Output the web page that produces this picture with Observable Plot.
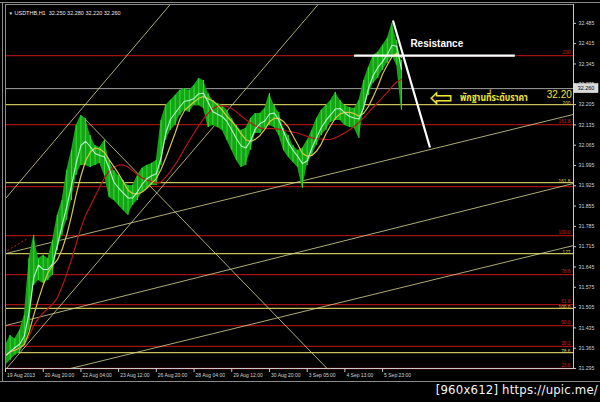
<!DOCTYPE html>
<html><head><meta charset="utf-8">
<script src="https://cdn.jsdelivr.net/npm/d3@7"></script>
<script src="https://cdn.jsdelivr.net/npm/@observablehq/plot@0.6"></script>
<style>
html,body{margin:0;padding:0;background:#000;}
#wrap{position:relative;width:600px;height:402px;overflow:hidden;background:#000;}
#wrap svg{position:absolute;left:0;top:0;}
.edge{position:absolute;background:#8c8c8c;}
#wm{position:absolute;right:2px;top:382px;color:#f4f4f4;font:13px "Liberation Sans Narrow","DejaVu Sans Condensed",sans-serif;letter-spacing:0.2px;white-space:nowrap;}
</style></head>
<body><div id="wrap"></div>
<script>
// ---- data ----
const symbolTitle = "USDTHB,H1  32.250 32.280 32.220 32.260";
const lastPrice = 32.260;
// one entry per 4 hourly bars, starting 19 Aug 2013
const barHigh = [31.374,31.409,31.398,31.426,31.478,31.674,31.754,31.674,31.685,31.674,31.736,31.823,31.874,31.978,32.047,32.133,32.167,32.157,32.098,32.064,32.057,32.081,32.012,31.978,31.960,31.943,31.926,31.926,31.960,31.985,31.995,32.002,32.012,32.150,32.202,32.219,32.236,32.254,32.260,32.254,32.271,32.295,32.288,32.243,32.219,32.209,32.202,32.185,32.157,32.133,32.116,32.123,32.157,32.174,32.174,32.191,32.243,32.202,32.178,32.123,32.098,32.064,32.047,32.054,32.081,32.116,32.157,32.185,32.202,32.219,32.247,32.219,32.202,32.195,32.191,32.219,32.288,32.333,32.374,32.385,32.409,32.433,32.485,32.426,32.357];
const barLow  = [31.305,31.323,31.340,31.350,31.374,31.426,31.581,31.598,31.588,31.598,31.616,31.702,31.754,31.805,31.874,31.960,31.995,31.995,31.988,31.995,32.002,31.960,31.885,31.874,31.857,31.840,31.823,31.857,31.874,31.902,31.916,31.926,31.926,31.995,32.081,32.116,32.133,32.167,32.185,32.178,32.202,32.202,32.191,32.126,32.133,32.126,32.116,32.081,32.047,32.012,31.988,31.995,32.047,32.105,32.105,32.123,32.133,32.126,32.098,32.047,32.023,32.005,31.988,31.916,31.995,32.029,32.064,32.098,32.116,32.143,32.150,32.150,32.133,32.126,32.123,32.088,32.185,32.236,32.278,32.295,32.323,32.347,32.374,32.340,32.185];
const barsPerStep = 4;

const priceTicks = [32.485,32.415,32.345,32.275,32.205,32.135,32.065,31.995,31.925,31.855,31.785,31.715,31.645,31.575,31.505,31.435,31.365,31.295];
const timeTicks = [0,32,64,96,128,160,192,224,256,288,320];
const timeLabels = ["19 Aug 2013","20 Aug 20:00","22 Aug 04:00","23 Aug 12:00","26 Aug 20:00","28 Aug 04:00","29 Aug 12:00","30 Aug 20:00","3 Sep 05:00","4 Sep 13:00","5 Sep 23:00"];

const redLevels = [32.374,32.136,31.922,31.753,31.619,31.515,31.443,31.371,31.295];
const redLabels = ["200","161.8","","100.0","78.6","61.8","50.0","38.2","23.6"];
const yellowLevels = [32.205,31.936,31.691,31.502,31.350];
const yellowLabels = ["200","161.8","127","100.0","78.6"];

// trend lines: [bar index 1, price 1, bar index 2, price 2]
const trendLines = [
  [0,31.881,139.8,32.550],
  [0.85,31.295,265.3,32.550],
  [65.3,32.164,272.9,31.295],
  [0,31.691,482,32.171],
  [0,31.443,482,31.933],
  [55.1,31.295,482,31.719]
];
const dashedLine = [[1.7,31.702,18.6,31.743]];
const whiteLines = [
  [295.8,32.374,432.2,32.374],
  [328.8,32.495,360.2,32.057]
];
const resistanceNote = [{i:366, p:32.416, text:"Resistance"}];
const arrowNote = [{i:369.5, p:32.229, text:"⇦"}];
const supportNote = [{i:385.6, p:32.229, text:"พักฐานที่ระดับราคา"}];
const supportPrice = [{i:459.3, p:32.238, text:"32.20"}];

const xMax = 482, yMin = 31.295, yMax = 32.55;

// ---- build ----
const bars = barHigh.map((h,k)=>({i:k*barsPerStep, hi:h, lo:barLow[k], mid:(h+barLow[k])/2}));
const seg = a => a.map(d=>({x1:d[0],y1:d[1],x2:d[2],y2:d[3]}));
const thai = "'Noto Sans Thai','Noto Sans Thai UI','Tahoma','Loma','Garuda','Noto Sans',sans-serif";
const small = "'Liberation Sans',Arial,sans-serif";

const chart = Plot.plot({
  width: 600, height: 402,
  marginTop: 4, marginLeft: 5, marginRight: 27, marginBottom: 34,
  style: {background:"#000", color:"#cfcfcf", fontFamily:small, fontSize:"5px", overflow:"visible"},
  x: {domain:[0,xMax], axis:null},
  y: {domain:[yMin,yMax], axis:null},
  marks: [
    Plot.ruleY(redLevels, {stroke:"#a01212", strokeWidth:1.3}),
    Plot.ruleY(yellowLevels, {stroke:"#c8c05c", strokeWidth:1.2}),
    Plot.ruleY([lastPrice], {stroke:"#a0a0a0", strokeWidth:1}),
    Plot.link(seg(trendLines), {x1:"x1",y1:"y1",x2:"x2",y2:"y2", stroke:"#d8d690", strokeWidth:0.8, clip:true}),
    Plot.link(seg(dashedLine), {x1:"x1",y1:"y1",x2:"x2",y2:"y2", stroke:"#c02020", strokeWidth:1, strokeDasharray:"2,2", clip:true}),
    Plot.areaY(bars, {x:"i", y1:"lo", y2:"hi", fill:"#17a317"}),
    Plot.ruleX(bars, {x:"i", y1:"lo", y2:"hi", stroke:"#2fe02f", strokeWidth:1}),
    Plot.lineY(bars, Plot.windowY({k:12, anchor:"end", reduce:"mean"}, {x:"i", y:"mid", stroke:"#b5161b", strokeWidth:1.2})),
    Plot.lineY(bars, Plot.windowY({k:5, anchor:"end", reduce:"mean"}, {x:"i", y:"mid", stroke:"#d9c64a", strokeWidth:1.2})),
    Plot.lineY(bars, Plot.windowY({k:2, anchor:"end", reduce:"mean"}, {x:"i", y:"mid", stroke:"#b8f5cc", strokeWidth:1.1})),
    Plot.link(seg(whiteLines), {x1:"x1",y1:"y1",x2:"x2",y2:"y2", stroke:"#ffffff", strokeWidth:2.2}),
    // fibo labels
    Plot.text(redLevels, {y:d=>d, frameAnchor:"right", text:(d,i)=>redLabels[i], textAnchor:"end", dx:-3, dy:-3.5, fill:"#c82222", fontSize:4.8}),
    Plot.text(yellowLevels, {y:d=>d, frameAnchor:"right", text:(d,i)=>yellowLabels[i], textAnchor:"end", dx:-3, dy:-1.5, fill:"#d8d060", fontSize:4.8}),
    // annotations
    Plot.text(resistanceNote, {x:"i", y:"p", text:"text", fill:"#ffffff", fontSize:10, fontWeight:"bold", fontFamily:"'Liberation Sans',Arial,sans-serif"}),
    Plot.text(arrowNote, {x:"i", y:"p", text:"text", fill:"#f0e038", fontSize:28, fontFamily:"'DejaVu Sans',sans-serif"}),
    Plot.text(supportNote, {x:"i", y:"p", text:"text", textAnchor:"start", fill:"#f0e038", fontSize:11, fontWeight:"bold", fontFamily:thai}),
    Plot.text(supportPrice, {x:"i", y:"p", text:"text", textAnchor:"start", fill:"#f0e038", fontSize:10.5, fontFamily:"'Liberation Sans',Arial,sans-serif"}),
    // header
    Plot.text(["▼"], {frameAnchor:"top-left", dx:3, dy:7, fill:"#e0e0e0", fontSize:4.5}),
    Plot.text([symbolTitle], {frameAnchor:"top-left", textAnchor:"start", dx:9, dy:7, fill:"#e8e8e8", fontSize:5.5}),
    // axes
    Plot.frame({stroke:"#8c8c8c"}),
    Plot.ruleX([xMax], {stroke:"#c8c8c8"}),
    Plot.ruleY([yMin], {stroke:"#c8c8c8"}),
    Plot.tickY(priceTicks, {y:d=>d, insetLeft:565, dx:3, stroke:"#c8c8c8"}),
    Plot.text(priceTicks, {y:d=>d, frameAnchor:"right", textAnchor:"start", dx:5, text:d=>d.toFixed(3), fill:"#cfcfcf", fontSize:5.2}),
    Plot.tickX(timeTicks, {x:d=>d, insetTop:360, dy:4, stroke:"#c8c8c8"}),
    Plot.text(timeTicks, {x:d=>d, frameAnchor:"bottom", textAnchor:"start", dx:1.5, dy:8, text:(d,i)=>timeLabels[i], fill:"#d4d4d4", fontSize:5})
  ]
});
const wrap = document.getElementById("wrap");
wrap.appendChild(chart);

// fit the two notes to the widths they have in the picture
d3.select(chart).selectAll("text").filter(function(){ return this.textContent === supportNote[0].text; })
  .attr("textLength", 68).attr("lengthAdjust", "spacingAndGlyphs");
d3.select(chart).selectAll("text").filter(function(){ return this.textContent === supportPrice[0].text; })
  .attr("textLength", 25).attr("lengthAdjust", "spacingAndGlyphs");

// current price box on the price axis
try {
  const ys = chart.scale("y").apply(lastPrice);
  const g = d3.select(chart).append("g");
  g.append("rect").attr("x",574).attr("y",ys-4.5).attr("width",24).attr("height",9).attr("fill","#d8d8d8").attr("stroke","#ffffff").attr("stroke-width",0.5);
  g.append("text").attr("x",586).attr("y",ys+2).attr("text-anchor","middle").attr("fill","#000").attr("font-size","5.4px").attr("font-family",small).text(lastPrice.toFixed(3));
} catch(e) {}

// window chrome
[["0px","2px","600px","1px"],["2px","2px","1px","380px"],["0px","381px","600px","1px"]].forEach(([l,t,w,h])=>{
  const d=document.createElement("div"); d.className="edge"; d.style.left=l; d.style.top=t; d.style.width=w; d.style.height=h; wrap.appendChild(d);
});
const wm=document.createElement("div"); wm.id="wm"; wm.textContent="[960x612] https://upic.me/"; wrap.appendChild(wm);
</script>
</body></html>
